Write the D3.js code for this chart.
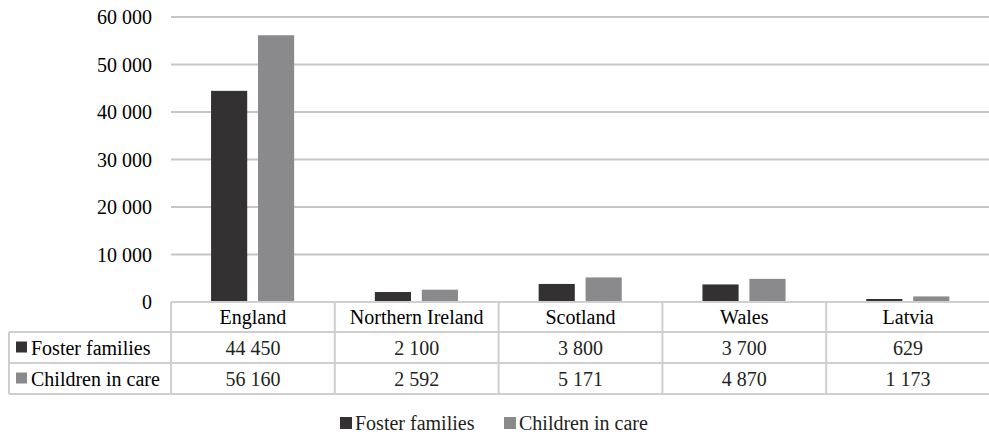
<!DOCTYPE html>
<html>
<head>
<meta charset="utf-8">
<script src="https://cdn.jsdelivr.net/npm/d3@7"></script>
</head>
<body style="margin:0">
<svg id="chart"></svg>
<script>
const countries = ["England", "Northern Ireland", "Scotland", "Wales", "Latvia"];
const seriesNames = ["Foster families", "Children in care"];
const fosterFamilies = [44450, 2100, 3800, 3700, 629];
const childrenInCare = [56160, 2592, 5171, 4870, 1173];
const yTicks = [0, 10000, 20000, 30000, 40000, 50000, 60000];

const colors = ["#333132", "#8a8a8c"];
const width = 989, height = 434;
const margin = { top: 17, left: 171, right: 990, zero: 302 };
const fontSize = 20;
const base = 7; // baseline offset from centre line

const svg = d3.select("#chart")
    .attr("width", width).attr("height", height);

const fmt = v => d3.format(",")(v).replace(/,/g, " ");

const x0 = d3.scaleBand().domain(countries).range([margin.left, margin.right]);
const bw = x0.bandwidth();
const x1 = d3.scaleBand().domain(seriesNames)
    .range([bw * 40 / 163.6, bw * 123 / 163.6])
    .paddingInner(0.23);
const y = d3.scaleLinear().domain([0, 60000]).range([margin.zero, margin.top]);

// gridlines
svg.append("g").selectAll("line")
    .data(yTicks.slice(1))
    .join("line")
    .attr("x1", margin.left).attr("x2", width)
    .attr("y1", d => y(d)).attr("y2", d => y(d))
    .attr("stroke", "#c6c6c6").attr("stroke-width", 2);

// y axis labels
svg.selectAll(".ytick")
    .data(yTicks)
    .join("text")
    .attr("class", "ytick")
    .attr("x", 152)
    .attr("y", d => y(d) + base)
    .attr("text-anchor", "end")
    .attr("font-size", fontSize)
    .attr("font-family", "Liberation Serif")
    .text(d => fmt(d));

// bars
const data = countries.map((c, i) => ({ country: c, values: [fosterFamilies[i], childrenInCare[i]] }));
const groups = svg.append("g").selectAll("g")
    .data(data)
    .join("g")
    .attr("transform", d => `translate(${x0(d.country)},0)`);
groups.selectAll("rect")
    .data(d => d.values.map((v, j) => ({ key: seriesNames[j], value: v, j })))
    .join("rect")
    .attr("x", d => x1(d.key))
    .attr("width", x1.bandwidth())
    .attr("y", d => y(d.value))
    .attr("height", d => y(0) - y(d.value))
    .attr("fill", d => colors[d.j]);

// data table
const tableLeft = 9;
const rowsY = [margin.zero, margin.zero + 30, margin.zero + 61, margin.zero + 92];
const lineColor = "#cfcfcf";

svg.append("line")
    .attr("x1", margin.left).attr("x2", width)
    .attr("y1", rowsY[0]).attr("y2", rowsY[0])
    .attr("stroke", lineColor).attr("stroke-width", 2);
svg.selectAll(".hline")
    .data(rowsY.slice(1))
    .join("line")
    .attr("class", "hline")
    .attr("x1", tableLeft).attr("x2", width)
    .attr("y1", d => d).attr("y2", d => d)
    .attr("stroke", lineColor).attr("stroke-width", 2);
svg.selectAll(".vline")
    .data(countries)
    .join("line")
    .attr("class", "vline")
    .attr("x1", d => x0(d)).attr("x2", d => x0(d))
    .attr("y1", rowsY[0]).attr("y2", rowsY[3])
    .attr("stroke", lineColor).attr("stroke-width", 2);
svg.append("line")
    .attr("x1", tableLeft).attr("x2", tableLeft)
    .attr("y1", rowsY[1]).attr("y2", rowsY[3])
    .attr("stroke", lineColor).attr("stroke-width", 2);

// header
svg.selectAll(".hdr")
    .data(countries)
    .join("text")
    .attr("class", "hdr")
    .attr("x", d => x0(d) + bw / 2)
    .attr("y", (rowsY[0] + rowsY[1]) / 2 + base)
    .attr("text-anchor", "middle")
    .attr("font-size", fontSize)
    .attr("font-family", "Liberation Serif")
    .text(d => d);

// rows
const rowValues = [fosterFamilies, childrenInCare];
rowValues.forEach((vals, r) => {
    const cy = (rowsY[r + 1] + rowsY[r + 2]) / 2;
    svg.append("rect")
        .attr("x", 16).attr("y", cy - 6)
        .attr("width", 11).attr("height", 11)
        .attr("fill", colors[r]);
    svg.append("text")
        .attr("x", 31).attr("y", cy + base)
        .attr("font-size", fontSize)
        .attr("font-family", "Liberation Serif")
        .text(seriesNames[r]);
    svg.selectAll(".cell" + r)
        .data(vals)
        .join("text")
        .attr("class", "cell" + r)
        .attr("x", (d, i) => x0(countries[i]) + bw / 2)
        .attr("y", cy)
        .attr("dy", "0.35em")
        .attr("fill", "#231f20")
        .attr("text-anchor", "middle")
        .attr("font-size", fontSize)
        .attr("font-family", "Liberation Serif")
        .text(d => fmt(d));
});

// legend
const legendX = [340, 504];
seriesNames.forEach((s, i) => {
    svg.append("rect")
        .attr("x", legendX[i]).attr("y", 417)
        .attr("width", 12).attr("height", 12)
        .attr("fill", colors[i]);
    svg.append("text")
        .attr("x", legendX[i] + 15).attr("y", 423 + base)
        .attr("fill", "#231f20")
        .attr("font-size", fontSize)
        .attr("font-family", "Liberation Serif")
        .text(s);
});
</script>
</body>
</html>
